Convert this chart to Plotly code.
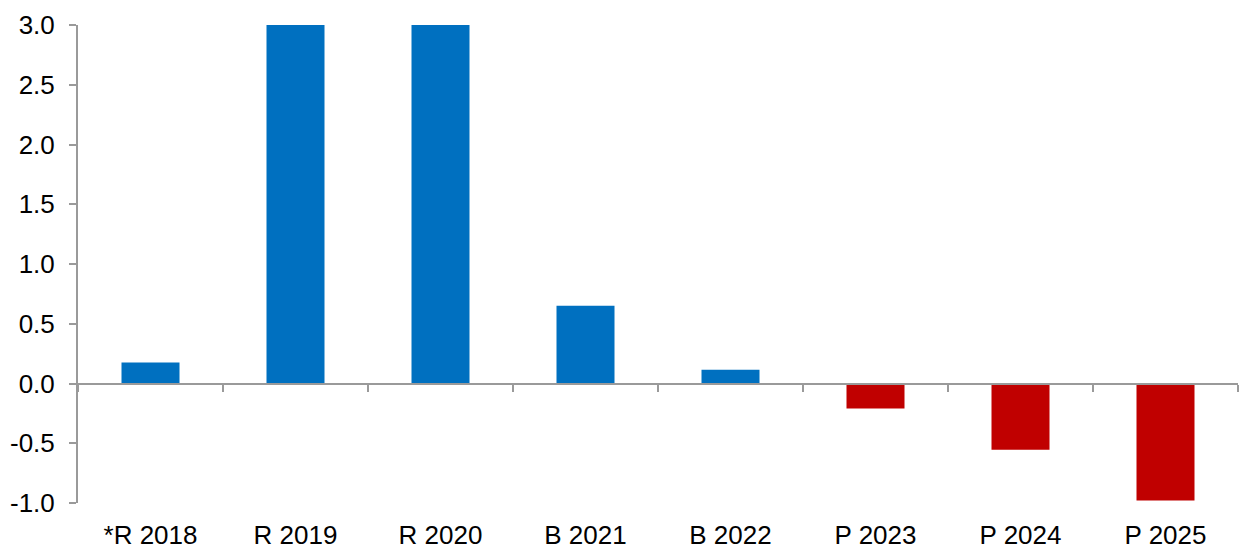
import plotly.graph_objects as go

# Annual change by period (R = reported, B = budget, P = projection)
categories = ["*R 2018", "R 2019", "R 2020", "B 2021", "B 2022", "P 2023", "P 2024", "P 2025"]
values = [0.175, 3.0, 3.0, 0.65, 0.115, -0.21, -0.555, -0.98]
y_ticks = [-1.0, -0.5, 0.0, 0.5, 1.0, 1.5, 2.0, 2.5, 3.0]

BLUE = "#0070C0"
RED = "#C00000"
AXIS = "#9a9a9a"
FONT = "Liberation Sans, Arial, sans-serif"

y_range = [-1.0, 3.0]
colors = [BLUE if v >= 0 else RED for v in values]

fig = go.Figure()
fig.add_trace(go.Bar(
    x=categories, y=values, marker=dict(color=colors, line=dict(width=0)),
    width=0.4, hoverinfo="x+y",
))
# Invisible trace on the second x-axis so its category ticks line up
fig.add_trace(go.Bar(x=categories, y=[None] * len(categories), xaxis="x2", showlegend=False,
                     hoverinfo="skip"))

zero_pos = (0 - y_range[0]) / (y_range[1] - y_range[0])

fig.update_layout(
    width=1239, height=549,
    margin=dict(l=78, r=1, t=25, b=46),
    paper_bgcolor="white", plot_bgcolor="white",
    showlegend=False, bargap=0.6,
    font=dict(family=FONT, size=26, color="black"),
    xaxis=dict(
        type="category", categoryorder="array", categoryarray=categories,
        showline=False, showgrid=False, zeroline=False, ticks="",
        tickfont=dict(size=26), ticklabelstandoff=14, automargin=False,
    ),
    xaxis2=dict(
        type="category", categoryorder="array", categoryarray=categories,
        overlaying="x", anchor="free", position=zero_pos,
        showline=True, linecolor=AXIS, linewidth=2,
        ticks="outside", tickson="boundaries", ticklen=7, tickcolor=AXIS, tickwidth=2,
        showticklabels=False, showgrid=False, zeroline=False, automargin=False,
    ),
    yaxis=dict(
        range=y_range, tickvals=y_ticks, ticktext=[f"{v:.1f}" for v in y_ticks],
        showline=True, linecolor=AXIS, linewidth=2,
        ticks="outside", ticklen=7, tickcolor=AXIS, tickwidth=2,
        showgrid=False, zeroline=False, automargin=False,
        tickfont=dict(size=26), ticklabelstandoff=9,
    ),
)

fig.write_html("out.html")
